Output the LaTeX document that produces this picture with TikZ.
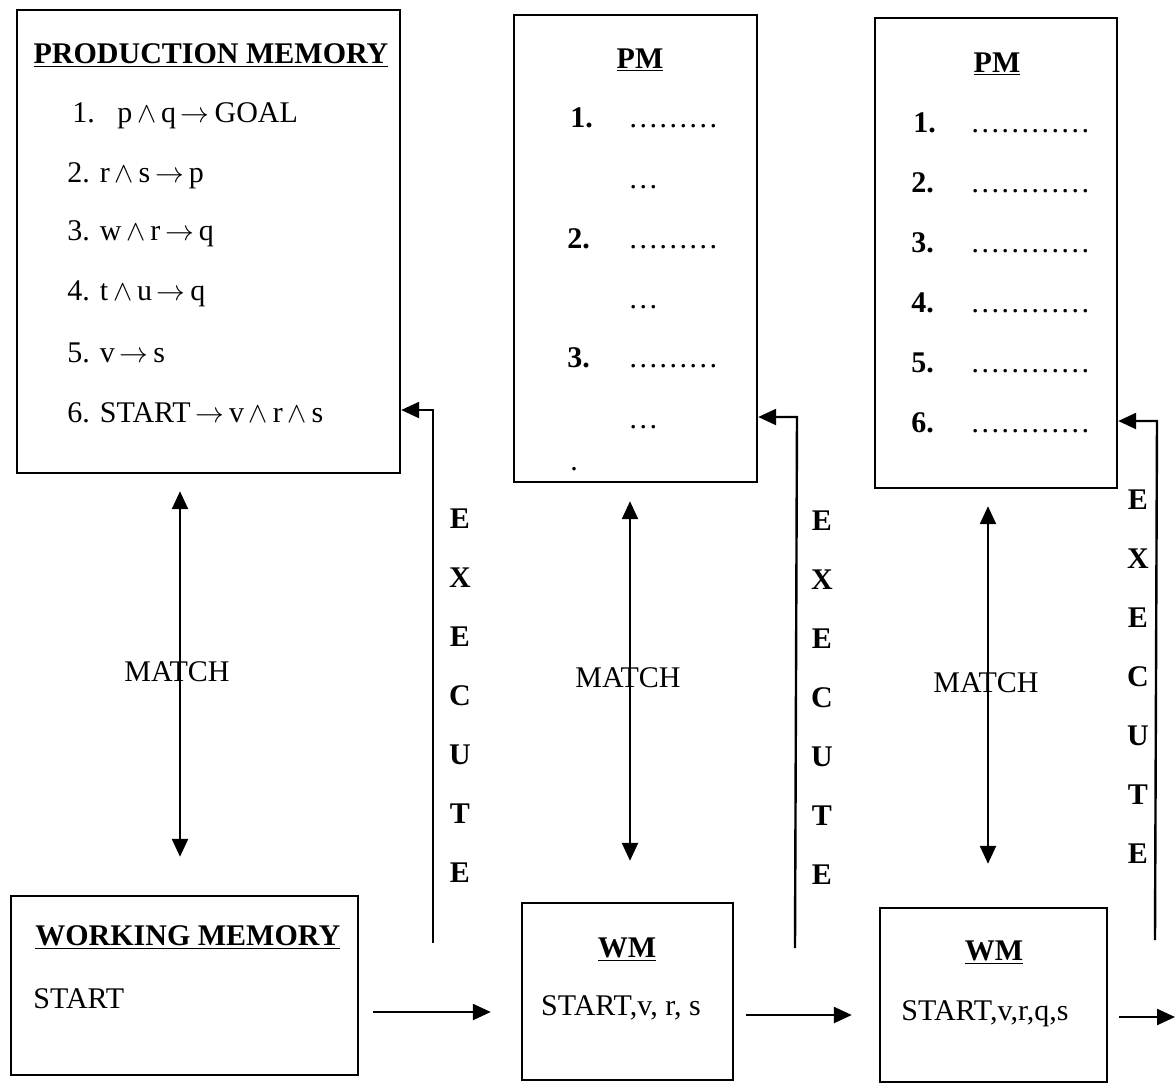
\documentclass[tikz,border=0pt]{standalone}
\usepackage{fontspec}
\setmainfont{Liberation Serif}
\usetikzlibrary{arrows.meta}
\newcommand\memfont{\fontsize{15pt}{17.5pt}\selectfont}
\tikzset{
  memory/.style={draw, line width=1.2pt, inner sep=0pt},
  flow/.style={-{Triangle[length=9pt,width=8pt]}, line width=1.2pt},
  match/.style={{Triangle[length=9pt,width=8pt]}-{Triangle[length=9pt,width=8pt]}, line width=1.2pt},
  rule/.style={anchor=base west, inner sep=0pt},
  head/.style={anchor=base, font=\memfont\bfseries},
  num/.style={anchor=base west, inner sep=0pt, font=\memfont\bfseries},
  execute/.style={font=\fontsize{15pt}{29.5pt}\selectfont\bfseries, align=center}
}
\begin{document}
\begin{tikzpicture}[x=0.5pt, y=-0.5pt, font=\memfont]
      \useasboundingbox (0,0) rectangle (1175,1084);
      % memories
      \node[memory, minimum width=191.5pt, minimum height=231.5pt] (pm1) at (208.5,241.5) {};
      \node[memory, minimum width=121.5pt, minimum height=233.5pt] (pm2) at (635.5,248.5) {};
      \node[memory, minimum width=121pt, minimum height=235pt] (pm3) at (996,253) {};
      \node[memory, minimum width=173.5pt, minimum height=89.5pt] (wm1) at (184.5,985.5) {};
      \node[memory, minimum width=105.5pt, minimum height=88.5pt] (wm2) at (627.5,991.5) {};
      \node[memory, minimum width=113.5pt, minimum height=87pt] (wm3) at (993.5,995) {};
      % production memory
      \node[head] (pm1title) at (211,63) {\underline{PRODUCTION MEMORY}};
      \node[rule] (pm1r1) at (72,122) {1.\enspace\ p$\,\wedge\,$q$\,\rightarrow\,$GOAL};
      \node[rule] (pm1r2) at (67,182) {2. r$\,\wedge\,$s$\,\rightarrow\,$p};
      \node[rule] (pm1r3) at (67,240) {3. w$\,\wedge\,$r$\,\rightarrow\,$q};
      \node[rule] (pm1r4) at (67,300) {4. t$\,\wedge\,$u$\,\rightarrow\,$q};
      \node[rule] (pm1r5) at (67,362) {5. v$\,\rightarrow\,$s};
      \node[rule] (pm1r6) at (67,422) {6. START$\,\rightarrow\,$v$\,\wedge\,$r$\,\wedge\,$s};
      % second PM
      \node[head] (pm2title) at (640,68) {\underline{PM}};
      \node[num] (pm2n1) at (570,127) {1.};
      \node[rule] (pm2d1) at (628,127) {………};
      \node[rule] (pm2e1) at (628,188) {…};
      \node[num] (pm2n2) at (567,248) {2.};
      \node[rule] (pm2d2) at (628,248) {………};
      \node[rule] (pm2e2) at (628,308) {…};
      \node[num] (pm2n3) at (567,367) {3.};
      \node[rule] (pm2d3) at (628,367) {………};
      \node[rule] (pm2e3) at (628,428) {…};
      \node[rule] (pm2end) at (570,470) {.};
      % third PM
      \node[head] (pm3title) at (997,72) {\underline{PM}};
      \node[num] (pm3n1) at (913,132) {1.};
      \node[rule] (pm3d1) at (970,132) {…………};
      \node[num] (pm3n2) at (911,192) {2.};
      \node[rule] (pm3d2) at (970,192) {…………};
      \node[num] (pm3n3) at (911,252) {3.};
      \node[rule] (pm3d3) at (970,252) {…………};
      \node[num] (pm3n4) at (911,312) {4.};
      \node[rule] (pm3d4) at (970,312) {…………};
      \node[num] (pm3n5) at (911,372) {5.};
      \node[rule] (pm3d5) at (970,372) {…………};
      \node[num] (pm3n6) at (911,432) {6.};
      \node[rule] (pm3d6) at (970,432) {…………};
      % working memories
      \node[num] (wm1title) at (35,945) {\underline{WORKING MEMORY}};
      \node[rule] (wm1fact) at (33,1008) {START};
      \node[head] (wm2title) at (627,957) {\underline{WM}};
      \node[anchor=base] (wm2fact) at (621,1015) {START,v, r, s};
      \node[head] (wm3title) at (994,960) {\underline{WM}};
      \node[anchor=base] (wm3fact) at (985,1020) {START,v,r,q,s};
      % match
      \draw[match] ([xshift=-14.25pt,yshift=-8.5pt]pm1.south) -- ([xshift=-2.25pt,yshift=19pt]wm1.north);
      \draw[match] ([xshift=-2.75pt,yshift=-9pt]pm2.south) -- ([xshift=1.25pt,yshift=20.5pt]wm2.north);
      \draw[match] ([xshift=-4pt,yshift=-8.5pt]pm3.south) -- ([xshift=-2.75pt,yshift=21.5pt]wm3.north);
      \node (match1) at (177,672) {MATCH};
      \node (match2) at (628,678) {MATCH};
      \node (match3) at (986,683) {MATCH};
      % execute
      \coordinate (ex1) at (433,943);
      \coordinate (ex1top) at (433,410);
      \coordinate (ex2) at (795,948);
      \coordinate (ex2top) at (797,417);
      \coordinate (ex3) at (1155,940);
      \coordinate (ex3top) at (1157,421);
      \draw[flow] (ex1) -- (ex1top) -- (pm1.east |- ex1top);
      \draw[flow] (ex2) -- (ex2top) -- (pm2.east |- ex2top);
      \draw[flow] (ex3) -- (ex3top) -- (pm3.east |- ex3top);
      \node[execute] (exec1) at (460,696) {E\\X\\E\\C\\U\\T\\E};
      \node[execute] (exec2) at (822,698) {E\\X\\E\\C\\U\\T\\E};
      \node[execute] (exec3) at (1138,677) {E\\X\\E\\C\\U\\T\\E};
      % cycle
      \coordinate (out) at (1175,1017);
      \draw[flow] ([xshift=7pt,yshift=-13.25pt]wm1.east) -- ([xshift=-15pt,yshift=-10.25pt]wm2.west);
      \draw[flow] ([xshift=6pt,yshift=-11.75pt]wm2.east) -- ([xshift=-13.5pt,yshift=-10pt]wm3.west);
      \draw[flow] ([xshift=5.5pt,yshift=-11pt]wm3.east) -- (out);
    \end{tikzpicture}
\end{document}
